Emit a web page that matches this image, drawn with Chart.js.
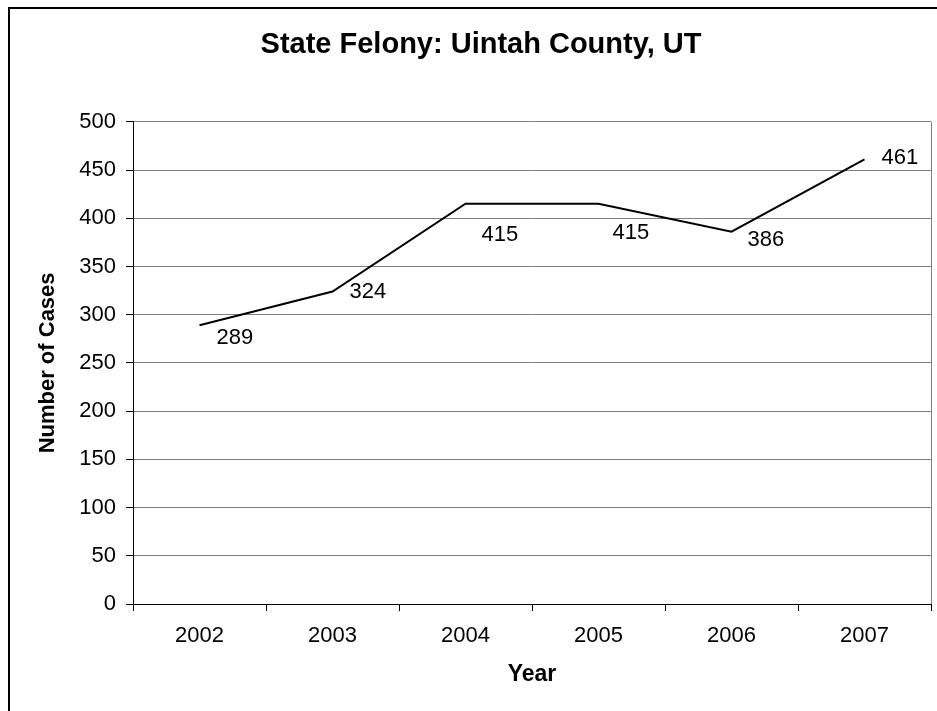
<!DOCTYPE html>
<html>
<head>
<meta charset="utf-8">
<script src="https://cdn.jsdelivr.net/npm/chart.js@4/dist/chart.umd.min.js"></script>
<style>
  html, body { margin: 0; padding: 0; background: #fff; }
  #wrap { width: 937px; height: 711px; position: relative; }
</style>
</head>
<body>
<div id="wrap"><canvas id="c" width="937" height="711"></canvas></div>
<script>
const years = ["2002", "2003", "2004", "2005", "2006", "2007"];
const cases = [289, 324, 415, 415, 386, 461];
const chartTitle = "State Felony: Uintah County, UT";
const xTitle = "Year";
const yTitle = "Number of Cases";

// label placement offsets (styling), px relative to each point
const labelDX = [17, 17, 16, 14, 16, 17];
const labelDY = [13, 0, 31, 29, 8, -1];

const FONT = "'Liberation Sans', Arial, sans-serif";

const framePlugin = {
  id: 'frame',
  beforeDraw(chart) {
    const ctx = chart.ctx;
    ctx.save();
    ctx.fillStyle = '#fff';
    ctx.fillRect(0, 0, chart.width, chart.height);
    ctx.strokeStyle = '#000';
    ctx.lineWidth = 2;
    ctx.strokeRect(9, 8, 2000, 2000);
    ctx.restore();
  },
  beforeDatasetsDraw(chart) {
    const a = chart.chartArea, ctx = chart.ctx;
    ctx.save();
    ctx.strokeStyle = '#808080';
    ctx.lineWidth = 1;
    ctx.beginPath();
    ctx.moveTo(Math.round(a.right) + 0.5, a.top);
    ctx.lineTo(Math.round(a.right) + 0.5, a.bottom);
    ctx.stroke();
    ctx.restore();
  },
  afterDatasetsDraw(chart) {
    const ctx = chart.ctx;
    const meta = chart.getDatasetMeta(0);
    ctx.save();
    ctx.fillStyle = '#000';
    ctx.font = '22px ' + FONT;
    ctx.textAlign = 'left';
    ctx.textBaseline = 'middle';
    meta.data.forEach((pt, i) => {
      ctx.fillText(String(cases[i]), pt.x + labelDX[i], pt.y + labelDY[i]);
    });
    ctx.restore();
  }
};

new Chart(document.getElementById('c'), {
  type: 'line',
  data: {
    labels: years,
    datasets: [{
      data: cases,
      borderColor: '#000',
      borderWidth: 2,
      pointRadius: 0,
      tension: 0,
      fill: false
    }]
  },
  options: {
    responsive: false,
    animation: false,
    layout: { padding: { left: 31, right: 6, top: 0, bottom: 0 } },
    plugins: {
      legend: { display: false },
      tooltip: { enabled: false },
      title: {
        display: true,
        text: chartTitle,
        color: '#000',
        font: { family: FONT, size: 29, weight: 'bold', lineHeight: 1.2 },
        padding: { top: 28, bottom: 59 }
      }
    },
    scales: {
      x: {
        type: 'category',
        offset: true,
        grid: {
          offset: true,
          drawOnChartArea: false,
          color: '#000',
          tickColor: '#000',
          tickLength: 7,
          lineWidth: 1
        },
        border: { display: true, color: '#000', width: 1 },
        ticks: { color: '#000', font: { family: FONT, size: 22 }, padding: 12, maxRotation: 0 },
        title: {
          display: true,
          text: xTitle,
          color: '#000',
          font: { family: FONT, size: 23, weight: 'bold', lineHeight: 1.2 },
          padding: { top: 0, bottom: 23 }
        },
        afterFit(s) { s.height = 107; }
      },
      y: {
        min: 0,
        max: 500,
        ticks: { stepSize: 50, color: '#000', font: { family: FONT, size: 22 }, padding: 10 },
        grid: {
          color: '#808080',
          tickColor: '#000',
          tickLength: 7,
          lineWidth: 1
        },
        border: { display: true, color: '#000', width: 1 },
        title: {
          display: true,
          text: yTitle,
          color: '#000',
          font: { family: FONT, size: 22, weight: 'bold', lineHeight: 1.2 },
          padding: { top: 4, bottom: 0 }
        },
        afterFit(s) { s.width = 102; }
      }
    }
  },
  plugins: [framePlugin]
});
</script>
</body>
</html>
